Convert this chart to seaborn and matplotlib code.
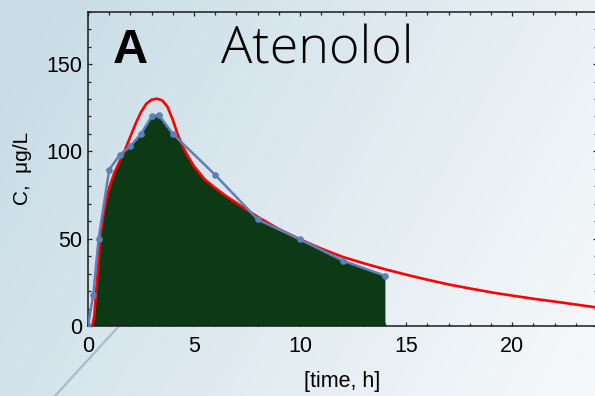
import numpy as np
import pandas as pd
import matplotlib
matplotlib.use("Agg")
import matplotlib.pyplot as plt
import seaborn as sns
from matplotlib.patches import Polygon
from matplotlib.lines import Line2D
from matplotlib.ticker import MultipleLocator

# ---- data ----
obs_time = [0, 0.25, 0.5, 1, 1.5, 2, 2.5, 3, 3.33, 4, 6, 8, 10, 12, 14]
obs_conc = [0, 18, 50, 89.5, 98, 103, 110, 120, 121, 110, 86.5, 61, 49.6, 37.5, 28.8]

model_time = [0, 0.2, 0.3, 0.4, 0.5, 0.6, 0.75, 0.9, 1.0, 1.25, 1.5, 1.75, 2.0, 2.25,
              2.5, 2.75, 3.0, 3.25, 3.5, 3.75, 4.0, 4.25, 4.5, 4.75, 5.0, 5.5,
              6, 6.5, 7, 7.5, 8, 9, 10, 11, 12, 13, 14, 15, 16, 17, 18, 19,
              20, 21, 22, 23, 24]
model_conc = [0, 0, 6, 22, 38, 53, 65, 74.5, 79, 88, 94.5, 101, 108.5, 116,
              122.5, 127.3, 129.6, 130.2, 129.2, 125.5, 118, 109, 102, 96.5, 91.5, 84,
              79, 74.5, 70.5, 66.4, 62.5, 55.5, 49.6, 44.3, 39.6, 35.9, 32.5, 29.4,
              26.5, 23.8, 21.5, 19.3, 17.4, 15.6, 14.0, 12.3, 10.6]

x_ticks = [0, 5, 10, 15, 20]
y_ticks = [0, 50, 100, 150]

obs = pd.DataFrame({"time": obs_time, "conc": obs_conc})
model = pd.DataFrame({"time": model_time, "conc": model_conc})

sns.set_style("ticks")
plt.rcParams["font.family"] = ["Liberation Sans", "DejaVu Sans"]
plt.rcParams["text.color"] = "black"
plt.rcParams["axes.labelcolor"] = "black"
plt.rcParams["xtick.color"] = "black"
plt.rcParams["ytick.color"] = "black"

W, H = 595, 396
fig = plt.figure(figsize=(W / 100, H / 100), dpi=100)

# background gradient
bg = fig.add_axes([0, 0, 1, 1], zorder=-10)
gx, gy = np.meshgrid(np.linspace(0, 1, 300), np.linspace(0, 1, 200))
t = np.clip(0.8 * gx + 0.3 * gy - 0.05, 0, 1)
c0 = np.array([200, 220, 230]) / 255
c1 = np.array([245, 248, 250]) / 255
img = c0[None, None, :] * (1 - t[..., None]) + c1[None, None, :] * t[..., None]
bg.imshow(img, aspect="auto", extent=[0, 1, 0, 1], origin="upper")
bg.set_axis_off()
fig.add_artist(Line2D([55 / W, 118 / W], [0, (H - 327) / H], color="#a9bccb",
                      lw=1.6, transform=fig.transFigure, zorder=-5))

# main axes
left, right, top, bottom = 88, 597, 11.7, 326
ax = fig.add_axes([left / W, (H - bottom) / H, (right - left) / W, (bottom - top) / H])
ax.set_facecolor("none")

# filled area under the lower of the two curves
fill = ax.fill_between(obs["time"], obs["conc"], 0, color="#0b3a14", lw=0, zorder=1)
red_xy = np.column_stack([model["time"], model["conc"]])
red_xy = np.vstack([red_xy, [[model["time"].iloc[-1], 0]]])
red_poly = Polygon(red_xy, closed=True, transform=ax.transData)
fill.set_clip_path(red_poly)

sns.lineplot(data=model, x="time", y="conc", ax=ax, color="#ff0000", lw=1.9,
             zorder=3, estimator=None, sort=False)
sns.lineplot(data=obs, x="time", y="conc", ax=ax, color="#5c80b8", lw=1.8,
             marker="o", markersize=4.8, markeredgewidth=0, zorder=4,
             estimator=None, sort=False)

ax.set_xlim(0, 24)
ax.set_ylim(0, 180)
ax.set_xticks(x_ticks)
ax.set_yticks(y_ticks)
ax.xaxis.set_minor_locator(MultipleLocator(1))
ax.yaxis.set_minor_locator(MultipleLocator(10))
ax.tick_params(which="both", direction="in", top=True, right=True, color="#222222",
               width=0.9, labelcolor="black")
ax.tick_params(which="major", length=3.2)
ax.tick_params(which="minor", length=2.0)
ax.tick_params(axis="x", which="major", labelsize=15.5, pad=7)
ax.tick_params(axis="y", which="major", labelsize=15.5, pad=4)
for s in ax.spines.values():
    s.set_color("#1a1a1a")
    s.set_linewidth(1.1)

ax.set_xlabel("[time, h]", fontsize=15.5, color="black")
ax.set_ylabel("C,  μg/L", fontsize=15, color="black")
ax.xaxis.set_label_coords(0.5, -0.142)
ax.yaxis.set_label_coords(-0.11, 0.5)

fig.text(113 / W, (H - 63) / H, "A", fontsize=35, fontweight="bold", color="black",
         ha="left", va="baseline", family=["Liberation Sans", "DejaVu Sans"])
fig.text(221 / W, (H - 63) / H, "Atenolol", fontsize=37.5, fontweight="light",
         color="black", ha="left", va="baseline", family=["Open Sans", "DejaVu Sans"])

fig.savefig("out.png", dpi=100)
